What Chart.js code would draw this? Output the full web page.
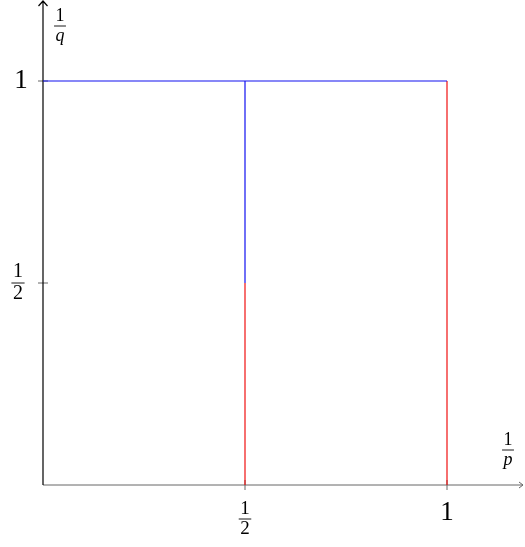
<!DOCTYPE html>
<html>
<head>
<meta charset="utf-8">
<script src="https://cdn.jsdelivr.net/npm/chart.js@4"></script>
<style>
  html, body { margin: 0; padding: 0; background: #fff; }
  #wrap { width: 525px; height: 547px; }
</style>
</head>
<body>
<div id="wrap"><canvas id="dualityChart" width="525" height="547"></canvas></div>
<script>
// line pieces of the region boundary, in (1/p, 1/q) coordinates
const blueSegments = [
  [[0, 1], [1, 1]],
  [[0.5, 0.5], [0.5, 1]]
];
const redSegments = [
  [[0.5, 0], [0.5, 0.5]],
  [[1, 0], [1, 1]]
];
const xTicks = [0.5, 1];
const xTickLabels = ['1/2', '1'];
const yTicks = [0.5, 1];
const yTickLabels = ['1/2', '1'];
const xAxisLabel = '1/p';
const yAxisLabel = '1/q';

const serif = '"Liberation Serif", "DejaVu Serif", "Times New Roman", serif';

function segmentDatasets(segments, color) {
  return segments.map(seg => ({
    data: seg.map(pt => ({ x: pt[0], y: pt[1] })),
    borderColor: color,
    borderWidth: 1.2,
    pointRadius: 0,
    showLine: true,
    fill: false
  }));
}

// draws "a/b" as a stacked fraction, plain text otherwise
function drawLabel(ctx, text, cx, cy, size, italicDen) {
  ctx.save();
  ctx.fillStyle = '#000';
  ctx.textAlign = 'center';
  ctx.textBaseline = 'middle';
  if (text.indexOf('/') === -1) {
    ctx.font = size + 'px ' + serif;
    ctx.fillText(text, cx, cy);
  } else {
    const parts = text.split('/');
    ctx.font = size + 'px ' + serif;
    ctx.fillText(parts[0], cx, cy - size * 0.55);
    ctx.font = (italicDen ? 'italic ' : '') + size + 'px ' + serif;
    ctx.fillText(parts[1], cx, cy + size * 0.55);
    ctx.strokeStyle = '#000';
    ctx.lineWidth = 0.9;
    ctx.beginPath();
    ctx.moveTo(cx - size * 0.33, cy);
    ctx.lineTo(cx + size * 0.33, cy);
    ctx.stroke();
  }
  ctx.restore();
}

const axesPlugin = {
  id: 'texAxes',
  beforeDatasetsDraw(chart) {
    const ctx = chart.ctx;
    const xs = chart.scales.x, ys = chart.scales.y;
    const x0 = xs.getPixelForValue(0), y0 = ys.getPixelForValue(0);
    const area = chart.chartArea;
    ctx.save();
    // x axis
    ctx.strokeStyle = '#666';
    ctx.lineWidth = 1;
    ctx.beginPath();
    ctx.moveTo(x0, y0);
    ctx.lineTo(area.right, y0);
    ctx.moveTo(area.right - 4, y0 - 3);
    ctx.lineTo(area.right, y0);
    ctx.lineTo(area.right - 4, y0 + 3);
    ctx.stroke();
    // ticks
    xTicks.forEach(v => {
      const px = xs.getPixelForValue(v);
      ctx.beginPath();
      ctx.moveTo(px, y0 - 5);
      ctx.lineTo(px, y0 + 5);
      ctx.stroke();
    });
    yTicks.forEach(v => {
      const py = ys.getPixelForValue(v);
      ctx.beginPath();
      ctx.moveTo(x0 - 5, py);
      ctx.lineTo(x0 + 5, py);
      ctx.stroke();
    });
    // y axis
    ctx.strokeStyle = '#000';
    ctx.lineWidth = 1.2;
    ctx.beginPath();
    ctx.moveTo(x0, y0);
    ctx.lineTo(x0, area.top);
    ctx.moveTo(x0 - 4.5, area.top + 5);
    ctx.lineTo(x0, area.top);
    ctx.lineTo(x0 + 4.5, area.top + 5);
    ctx.stroke();
    ctx.restore();
  },
  afterDraw(chart) {
    const ctx = chart.ctx;
    const xs = chart.scales.x, ys = chart.scales.y;
    const x0 = xs.getPixelForValue(0), y0 = ys.getPixelForValue(0);
    xTicks.forEach((v, i) => {
      const px = xs.getPixelForValue(v);
      const lab = xTickLabels[i];
      if (lab.indexOf('/') === -1) drawLabel(ctx, lab, px, y0 + 28, 27);
      else drawLabel(ctx, lab, px, y0 + 34, 19);
    });
    yTicks.forEach((v, i) => {
      const py = ys.getPixelForValue(v);
      const lab = yTickLabels[i];
      if (lab.indexOf('/') === -1) drawLabel(ctx, lab, x0 - 22, py, 27);
      else drawLabel(ctx, lab, x0 - 25, py, 20);
    });
    drawLabel(ctx, xAxisLabel, 508, y0 - 35, 18, true);
    drawLabel(ctx, yAxisLabel, 60, 26, 18, true);
  }
};

new Chart(document.getElementById('dualityChart'), {
  type: 'scatter',
  data: {
    datasets: segmentDatasets(blueSegments, '#1010f0').concat(segmentDatasets(redSegments, '#f01010'))
  },
  options: {
    responsive: false,
    animation: false,
    layout: { padding: { left: 43, right: 2, top: 1, bottom: 62 } },
    plugins: { legend: { display: false }, tooltip: { enabled: false } },
    scales: {
      x: { type: 'linear', display: false, min: 0, max: 480 / 404 },
      y: { type: 'linear', display: false, min: 0, max: 484 / 404 }
    }
  },
  plugins: [axesPlugin]
});
</script>
</body>
</html>
